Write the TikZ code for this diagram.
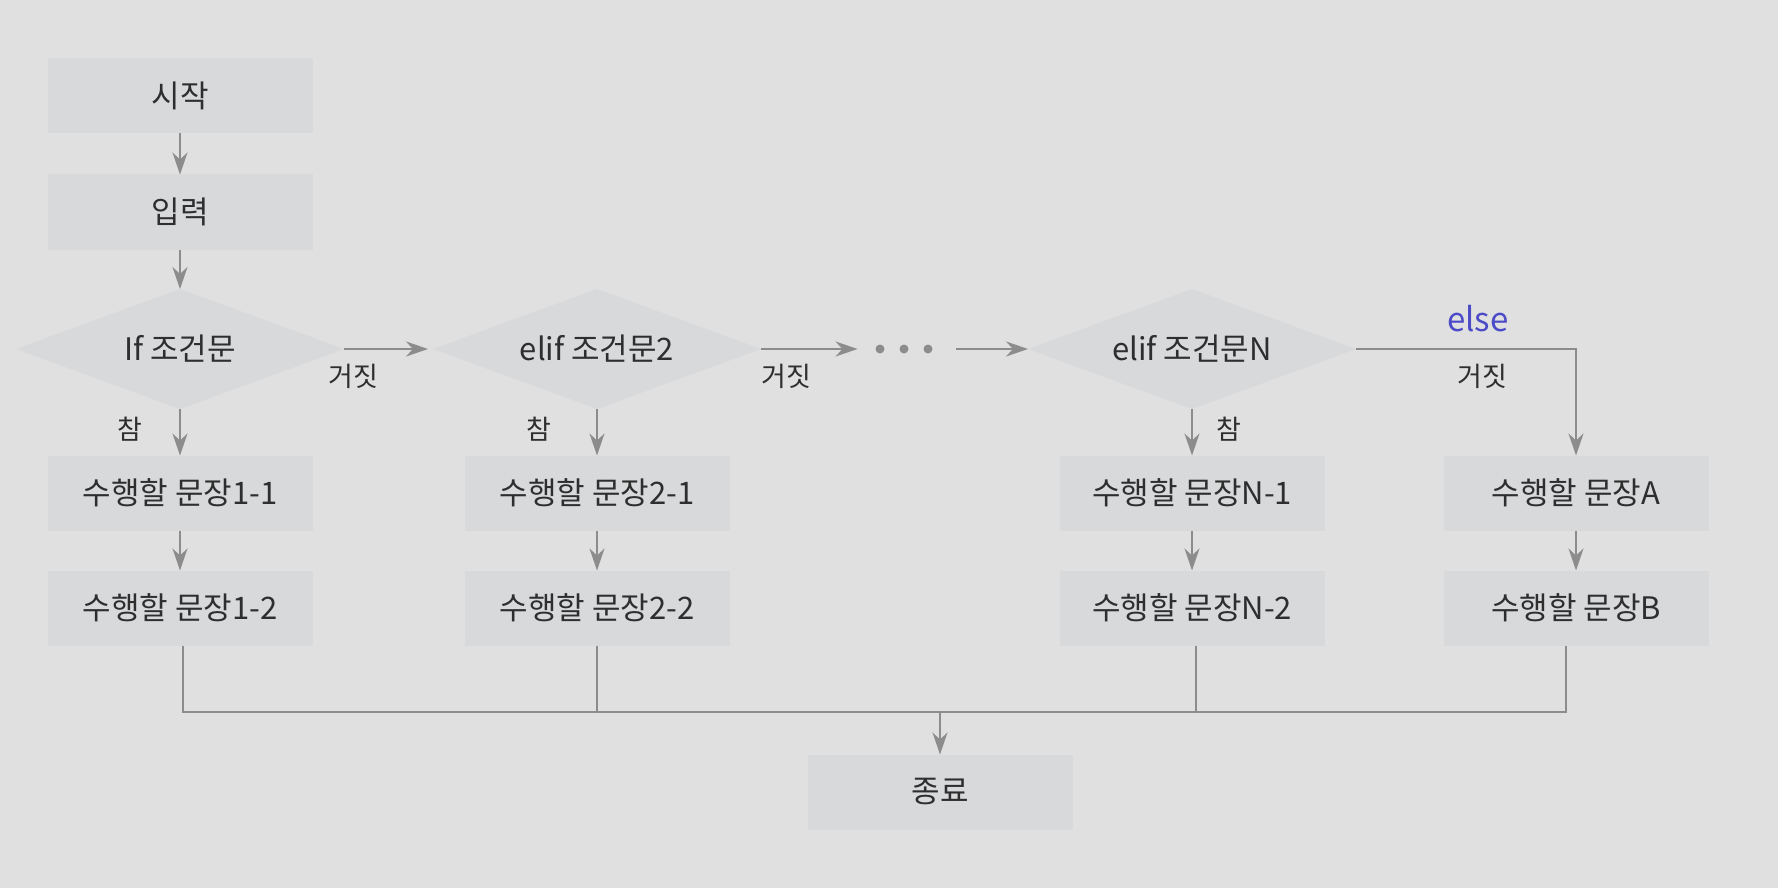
\documentclass[tikz,border=0pt]{standalone}
\usepackage{fontspec}
\setmainfont{Noto Sans CJK KR}
\usetikzlibrary{shapes.geometric,arrows.meta}
\definecolor{bgc}{HTML}{E0E0E0}
\definecolor{boxc}{HTML}{D8D9DB}
\definecolor{linec}{HTML}{8C8C8C}
\definecolor{txtc}{HTML}{2E2E2E}
\definecolor{elsec}{HTML}{4B4BC8}
\tikzset{
  procbox/.style={rectangle, fill=boxc, draw=none, minimum width=265pt, minimum height=75pt, inner sep=0pt, outer sep=0pt, text=txtc, font=\fontsize{31}{36}\selectfont},
  decbox/.style={diamond, aspect=2.73, fill=boxc, draw=none, minimum width=328pt, minimum height=120pt, inner sep=0pt, outer sep=0pt, text=txtc, font=\fontsize{31}{36}\selectfont},
  lbl/.style={text=txtc, font=\fontsize{27}{31}\selectfont, inner sep=0pt},
  conn/.style={draw=linec, line width=2pt},
  arr/.style={conn, -{Stealth[length=22pt, width=15pt, inset=7pt]}},
  dotn/.style={circle, fill=linec, draw=none, minimum size=9pt, inner sep=0pt, outer sep=0pt}
}
\begin{document}
\begin{tikzpicture}[x=1pt,y=-1pt]
\fill[bgc] (0,0) rectangle (1778,888);
\useasboundingbox (0,0) rectangle (1778,888);

\node[procbox] (start) at (180,96) {시작};
\node[procbox] (input) at (180,212) {입력};
\node[decbox] (d1) at (180,349) {If 조건문};
\node[decbox] (d2) at (597,349) {elif 조건문2};
\node[decbox] (d3) at (1192,349) {elif 조건문N};
\node[dotn] (o1) at (880,349) {};
\node[dotn] (o2) at (904,349) {};
\node[dotn] (o3) at (928,349) {};

\node[procbox] (b11) at (180,493) {수행할 문장1-1};
\node[procbox] (b12) at (180,608) {수행할 문장1-2};
\node[procbox] (b21) at (597,493) {수행할 문장2-1};
\node[procbox] (b22) at (597,608) {수행할 문장2-2};
\node[procbox] (bN1) at (1192,493) {수행할 문장N-1};
\node[procbox] (bN2) at (1192,608) {수행할 문장N-2};
\node[procbox] (bA) at (1576,493) {수행할 문장A};
\node[procbox] (bB) at (1576,608) {수행할 문장B};
\node[procbox] (end) at (940,792) {종료};

\coordinate (m) at (940,712);

\draw[arr] (start) -- (input);
\draw[arr] (input) -- (d1);
\draw[arr, shorten >=5pt] (d1.east) -- (d2.west);
\draw[arr, shorten >=18pt] (d2.east) -- (o1.west);
\draw[arr, shorten <=23pt] (o3.east) -- (d3.west);
\draw[arr] (d3.east) -| (bA.north);

\draw[arr] (d1.south) -- (b11.north);
\draw[arr] (d2.south) -- (b21.north);
\draw[arr] (d3.south) -- (bN1.north);
\draw[arr] (b11) -- (b12);
\draw[arr] (b21) -- (b22);
\draw[arr] (bN1) -- (bN2);
\draw[arr] (bA) -- (bB);

\draw[conn] ([xshift=3pt]b12.south) -- ([xshift=3pt]b12.south |- m) -- ([xshift=-10pt]bB.south |- m) -- ([xshift=-10pt]bB.south);
\draw[conn] (b22.south) -- (b22.south |- m);
\draw[conn] ([xshift=4pt]bN2.south) -- ([xshift=4pt]bN2.south |- m);
\draw[arr] (m) -- (end.north);

\node[lbl] (f1) at (353,376) {거짓};
\node[lbl] (f2) at (786,376) {거짓};
\node[lbl] (f3) at (1482,376) {거짓};
\node[lbl] (t1) at (130,429) {참};
\node[lbl] (t2) at (539,429) {참};
\node[lbl] (t3) at (1229,429) {참};
\node[text=elsec, font=\fontsize{33}{38}\selectfont, inner sep=0pt] (el) at (1478,319) {else};
\end{tikzpicture}
\end{document}
